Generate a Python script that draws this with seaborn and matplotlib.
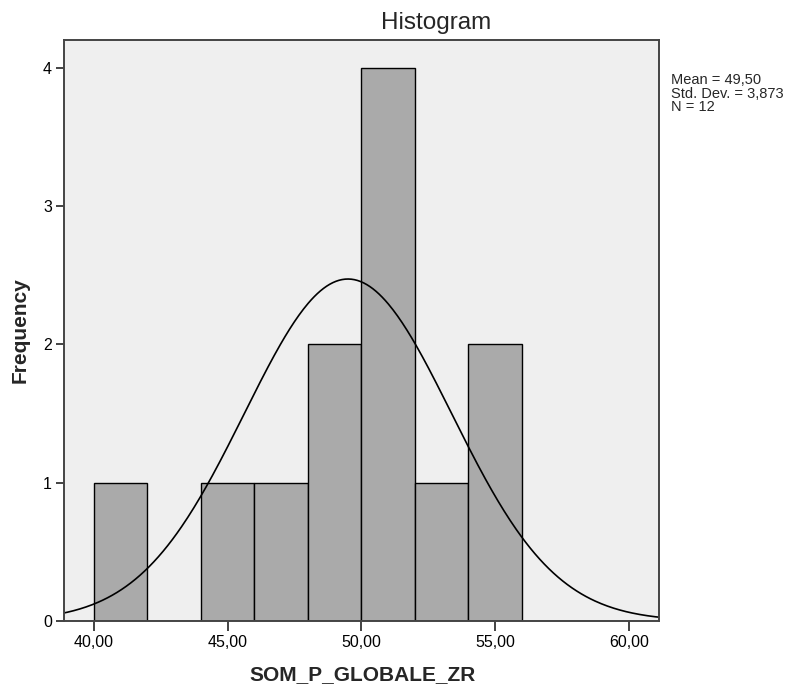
import numpy as np
import matplotlib
matplotlib.use("Agg")
import matplotlib.pyplot as plt
import seaborn as sns
import pandas as pd

# data (12 observations, mean 49.5, sd 3.873)
values = [41, 45, 47, 48, 49, 50, 51, 51, 51, 52, 54, 55]
bin_edges = [40, 42, 44, 46, 48, 50, 52, 54, 56]
x_ticks = [40, 45, 50, 55, 60]
x_tick_labels = ["40,00", "45,00", "50,00", "55,00", "60,00"]
y_ticks = [0, 1, 2, 3, 4]
mean_val = 49.50
sd_val = 3.873
n_val = 12
stats_lines = ["Mean = 49,50", "Std. Dev. = 3,873", "N = 12"]

sns.set_style("white")
plt.rcParams['font.family'] = ['Liberation Sans', 'DejaVu Sans']

W, H = 790, 686
fig = plt.figure(figsize=(W / 100, H / 100), dpi=100)
L, R, T, B = 63.7, 659, 40, 621
ax = fig.add_axes([L / W, 1 - B / H, (R - L) / W, (B - T) / H])
ax.set_facecolor("#efefef")

df = pd.DataFrame({"SOM_P_GLOBALE_ZR": values})
sns.histplot(data=df, x="SOM_P_GLOBALE_ZR", bins=bin_edges, stat="count",
             color="#aaaaaa", edgecolor="black", linewidth=1.0, alpha=1.0, ax=ax)

xs = np.linspace(38.5, 61.5, 400)
binw = bin_edges[1] - bin_edges[0]
ys = n_val * binw / (sd_val * np.sqrt(2 * np.pi)) * np.exp(-0.5 * ((xs - mean_val) / sd_val) ** 2)
sns.lineplot(x=xs, y=ys, color="black", linewidth=1.2, ax=ax)

ax.set_xlim(38.88, 61.12)
ax.set_ylim(0, 4.2)
ax.set_xticks(x_ticks)
ax.set_xticklabels(x_tick_labels)
ax.set_yticks(y_ticks)
ax.tick_params(axis="x", direction="out", length=7, width=1.2, color="#222222",
               labelsize=11.5, labelcolor="black", bottom=True, pad=3)
ax.tick_params(axis="y", direction="out", length=5.5, width=1.2, color="#222222",
               labelsize=11.5, labelcolor="black", left=True, pad=3)
for s in ax.spines.values():
    s.set_color("#444444")
    s.set_linewidth(1.4)

ax.set_xlabel("")
ax.set_ylabel("")
fig.text(363 / W, 1 - 675 / H, "SOM_P_GLOBALE_ZR", fontsize=15, fontweight="bold",
         ha="center", va="center")
fig.text(20 / W, 1 - 330 / H, "Frequency", fontsize=15, fontweight="bold",
         ha="center", va="center", rotation=90)

fig.text(436 / W, 1 - 23 / H, "Histogram", fontsize=17.5, ha="center", va="center")
for i, line in enumerate(stats_lines):
    fig.text(671 / W, 1 - (84 + 13.5 * i) / H, line, fontsize=10.5,
             ha="left", va="baseline")

fig.savefig("out.png", dpi=100)
